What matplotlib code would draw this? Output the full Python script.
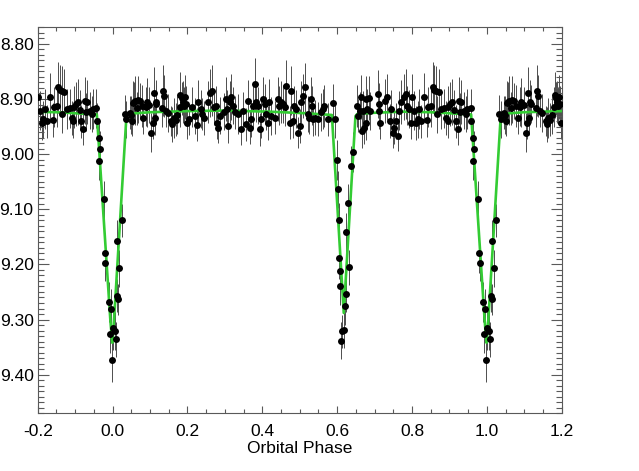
import numpy as np
import matplotlib
matplotlib.use("Agg")
import matplotlib.pyplot as plt
from matplotlib.ticker import MultipleLocator, FormatStrFormatter

# ---------------- data (phase-folded light curve, one cycle 0..1) ----------------
phase = [
    # primary egress
    0.000, 0.006, 0.009, 0.012, 0.013, 0.015, 0.018, 0.024, 0.033, 0.037,
    # out of eclipse 0.04 - 0.32
    0.046, 0.048, 0.051, 0.055, 0.057, 0.059, 0.064, 0.068, 0.073, 0.079,
    0.082, 0.089, 0.091, 0.098, 0.104, 0.107, 0.110, 0.113, 0.115, 0.117,
    0.131, 0.135, 0.137, 0.142, 0.148, 0.157, 0.160, 0.164, 0.169, 0.173,
    0.180, 0.181, 0.185, 0.188, 0.190, 0.193, 0.195, 0.199, 0.204, 0.211,
    0.220, 0.226, 0.229, 0.235, 0.238, 0.244, 0.256, 0.260, 0.265, 0.270,
    0.277, 0.279, 0.283, 0.288, 0.297, 0.304, 0.306, 0.308, 0.313, 0.317,
    # out of eclipse 0.32 - 0.59
    0.322, 0.326, 0.335, 0.344, 0.348, 0.357, 0.362, 0.366, 0.371, 0.375,
    0.380, 0.384, 0.388, 0.393, 0.397, 0.402, 0.406, 0.411, 0.415, 0.417,
    0.424, 0.433, 0.442, 0.446, 0.451, 0.455, 0.460, 0.464, 0.473, 0.477,
    0.482, 0.486, 0.491, 0.495, 0.500, 0.504, 0.508, 0.513, 0.522, 0.526,
    0.531, 0.533, 0.535, 0.540, 0.548, 0.557, 0.562, 0.566, 0.575, 0.588,
    # secondary eclipse
    0.593, 0.599, 0.602, 0.604, 0.606, 0.607, 0.608, 0.611, 0.613, 0.618,
    0.622, 0.624, 0.625, 0.628, 0.633, 0.636, 0.642, 0.652, 0.655, 0.660,
    # out of eclipse 0.66 - 0.81
    0.664, 0.667, 0.668, 0.673, 0.677, 0.678, 0.679, 0.684, 0.689, 0.708,
    0.711, 0.713, 0.714, 0.729, 0.733, 0.741, 0.744, 0.748, 0.753, 0.757,
    0.762, 0.764, 0.771, 0.779, 0.784, 0.788, 0.793, 0.797, 0.800, 0.806,
    # out of eclipse 0.81 - 0.96
    0.811, 0.815, 0.820, 0.824, 0.833, 0.840, 0.844, 0.851, 0.855, 0.859,
    0.864, 0.866, 0.871, 0.877, 0.886, 0.891, 0.895, 0.897, 0.902, 0.908,
    0.913, 0.917, 0.922, 0.926, 0.929, 0.932, 0.940, 0.944, 0.948, 0.957,
    # primary ingress
    0.959, 0.963, 0.964, 0.966, 0.977, 0.979, 0.981, 0.990, 0.993, 0.995,
    0.999,
]

mag = [
    9.315, 9.321, 9.336, 9.257, 9.157, 9.263, 9.207, 9.120, 8.928, 8.937,
    8.925, 8.929, 8.940, 8.908, 8.906, 8.903, 8.917, 8.901, 8.904, 8.912,
    8.934, 8.914, 8.906, 8.911, 8.961, 8.943, 8.890, 8.934, 8.905, 8.909,
    8.917, 8.885, 8.894, 8.921, 8.925, 8.940, 8.946, 8.934, 8.938, 8.929,
    8.915, 8.893, 8.899, 8.905, 8.912, 8.897, 8.909, 8.943, 8.937, 8.914,
    8.931, 8.947, 8.905, 8.918, 8.927, 8.934, 8.906, 8.889, 8.885, 8.915,
    8.912, 8.943, 8.952, 8.930, 8.923, 8.900, 8.918, 8.949, 8.906, 8.897,
    8.912, 8.924, 8.927, 8.955, 8.921, 8.946, 8.903, 8.952, 8.937, 8.912,
    8.873, 8.906, 8.912, 8.955, 8.937, 8.900, 8.909, 8.927, 8.943, 8.906,
    8.931, 8.934, 8.900, 8.912, 8.906, 8.909, 8.915, 8.876, 8.943, 8.885,
    8.940, 8.912, 8.918, 8.961, 8.949, 8.906, 8.894, 8.879, 8.927, 8.934,
    8.900, 8.912, 8.937, 8.934, 8.937, 8.924, 8.918, 8.912, 8.937, 8.908,
    8.937, 9.011, 9.064, 9.120, 9.189, 9.239, 9.212, 9.338, 9.321, 9.319,
    9.275, 9.253, 9.142, 9.088, 9.205, 9.021, 8.996, 8.912, 8.930, 8.921,
    8.897, 8.958, 8.921, 8.952, 8.900, 8.943, 8.918, 8.899, 8.922, 8.891,
    8.909, 8.921, 8.943, 8.903, 8.897, 8.940, 8.918, 8.961, 8.952, 8.940,
    8.967, 8.921, 8.906, 8.897, 8.891, 8.912, 8.918, 8.943, 8.897, 8.921,
    8.943, 8.937, 8.918, 8.940, 8.897, 8.938, 8.915, 8.912, 8.879, 8.883,
    8.885, 8.928, 8.887, 8.918, 8.917, 8.934, 8.940, 8.915, 8.909, 8.906,
    8.920, 8.940, 8.955, 8.903, 8.924, 8.906, 8.921, 8.927, 8.918, 8.917,
    8.940, 9.013, 8.970, 8.991, 9.082, 9.180, 9.197, 9.268, 9.327, 9.281,
    9.374,
]

err = [
    0.040, 0.035, 0.032, 0.030, 0.038, 0.028, 0.034, 0.030, 0.036, 0.033,
    0.030, 0.034, 0.028, 0.040, 0.036, 0.045, 0.030, 0.042, 0.033, 0.038,
    0.030, 0.035, 0.044, 0.032, 0.036, 0.030, 0.048, 0.031, 0.040, 0.035,
    0.033, 0.046, 0.038, 0.030, 0.034, 0.028, 0.032, 0.036, 0.030, 0.034,
    0.036, 0.042, 0.030, 0.038, 0.034, 0.040, 0.033, 0.030, 0.028, 0.036,
    0.032, 0.030, 0.040, 0.034, 0.029, 0.031, 0.038, 0.044, 0.046, 0.032,
    0.036, 0.030, 0.028, 0.034, 0.033, 0.040, 0.035, 0.030, 0.038, 0.042,
    0.034, 0.030, 0.036, 0.028, 0.034, 0.030, 0.038, 0.030, 0.032, 0.040,
    0.048, 0.036, 0.034, 0.030, 0.033, 0.040, 0.036, 0.030, 0.031, 0.042,
    0.034, 0.030, 0.040, 0.036, 0.038, 0.035, 0.034, 0.046, 0.030, 0.044,
    0.030, 0.036, 0.034, 0.028, 0.030, 0.038, 0.040, 0.045, 0.032, 0.030,
    0.040, 0.036, 0.030, 0.032, 0.031, 0.034, 0.036, 0.038, 0.030, 0.036,
    0.033, 0.036, 0.034, 0.032, 0.038, 0.035, 0.033, 0.034, 0.030, 0.032,
    0.035, 0.033, 0.036, 0.034, 0.032, 0.035, 0.036, 0.038, 0.030, 0.034,
    0.040, 0.030, 0.036, 0.030, 0.042, 0.031, 0.036, 0.040, 0.034, 0.044,
    0.038, 0.034, 0.030, 0.040, 0.042, 0.031, 0.035, 0.028, 0.030, 0.033,
    0.028, 0.036, 0.040, 0.042, 0.046, 0.036, 0.034, 0.030, 0.042, 0.036,
    0.031, 0.033, 0.036, 0.030, 0.044, 0.031, 0.036, 0.038, 0.046, 0.045,
    0.044, 0.033, 0.042, 0.036, 0.036, 0.031, 0.030, 0.038, 0.040, 0.042,
    0.036, 0.030, 0.028, 0.042, 0.034, 0.040, 0.034, 0.032, 0.036, 0.035,
    0.033, 0.034, 0.036, 0.033, 0.034, 0.035, 0.033, 0.036, 0.034, 0.036,
    0.040,
]

# model curve nodes (one cycle)
model_phase = [0.000, 0.004, 0.037, 0.041, 0.100, 0.200, 0.300, 0.420, 0.520,
               0.586, 0.6177, 0.649, 0.654, 0.700, 0.775, 0.850, 0.958, 0.994, 0.999]
model_mag = [9.338, 9.300, 8.932, 8.927, 8.924, 8.922, 8.921, 8.923, 8.926,
             8.929, 9.288, 8.931, 8.927, 8.925, 8.923, 8.924, 8.928, 9.300, 9.342]

x_ticks = [-0.2, 0.0, 0.2, 0.4, 0.6, 0.8, 1.0, 1.2]
y_ticks = [8.80, 8.90, 9.00, 9.10, 9.20, 9.30, 9.40]

# ---------------- plotting ----------------
plt.rcParams['font.family'] = ['Liberation Sans', 'DejaVu Sans']

fig = plt.figure(figsize=(6.39, 4.71), dpi=100)
W, H = 639.0, 471.0
ax = fig.add_axes([37.7 / W, 1 - 413.3 / H, (561.7 - 37.7) / W, (413.3 - 27.3) / H])

p = np.asarray(phase)
m = np.asarray(mag)
e = np.asarray(err)
P = np.concatenate([p - 1, p, p + 1])
M = np.tile(m, 3)
E = np.tile(e, 3)
sel = (P >= -0.2) & (P <= 1.2)

ax.errorbar(P[sel], M[sel], yerr=E[sel], fmt='none', ecolor='0.3',
            elinewidth=0.7, capsize=0, zorder=1)

mp = np.asarray(model_phase)
mm = np.asarray(model_mag)
MP = np.concatenate([mp - 1, mp, mp + 1])
MM = np.tile(mm, 3)
ax.plot(MP, MM, color='#33cc33', lw=1.9, zorder=2, solid_joinstyle='round')

ax.plot(P[sel], M[sel], 'o', color='black', ms=5.0, mew=0, zorder=3)

ax.set_xlim(-0.2, 1.2)
ax.set_ylim(9.47, 8.77)
ax.set_xticks(x_ticks)
ax.set_yticks(y_ticks)
ax.xaxis.set_minor_locator(MultipleLocator(0.05))
ax.yaxis.set_minor_locator(MultipleLocator(0.01))
ax.xaxis.set_major_formatter(FormatStrFormatter('%.1f'))
ax.yaxis.set_major_formatter(FormatStrFormatter('%.2f'))

ax.tick_params(which='both', direction='in', top=True, right=True,
               color='0.35', width=0.8, labelcolor='black')
ax.tick_params(axis='x', which='major', length=5.0, pad=7.5, labelsize=12.5)
ax.tick_params(axis='x', which='minor', length=2.9)
ax.tick_params(axis='y', which='major', length=7.9, pad=3, labelsize=12.5)
ax.tick_params(axis='y', which='minor', length=4.0)
for s in ax.spines.values():
    s.set_color('0.35')
    s.set_linewidth(0.8)

ax.set_xlabel('Orbital Phase', fontsize=12.5, labelpad=2)

fig.savefig('out.png', dpi=100)
